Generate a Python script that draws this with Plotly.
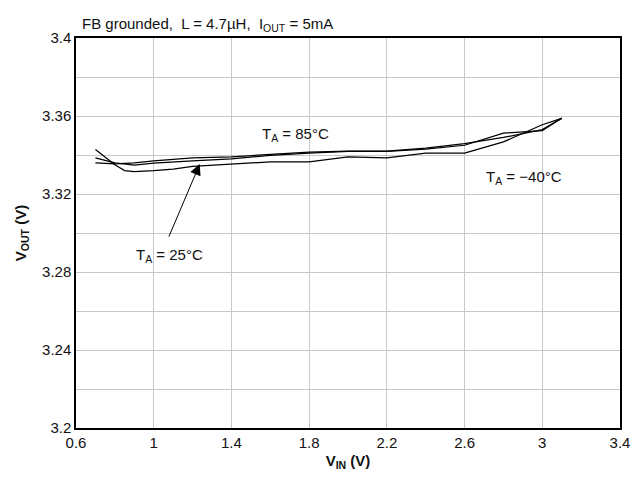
import plotly.graph_objects as go

vin_85 = [0.7, 0.8, 0.9, 1.0, 1.2, 1.4, 1.6, 1.8, 2.0, 2.2, 2.4, 2.6, 2.8, 3.0, 3.1]
vout_85 = [3.336, 3.3355, 3.336, 3.337, 3.3385, 3.339, 3.3403, 3.3415, 3.342, 3.342, 3.3435, 3.3458, 3.349, 3.353, 3.3588]

vin_25 = [0.7, 0.8, 0.9, 1.0, 1.2, 1.4, 1.6, 1.8, 2.0, 2.2, 2.4, 2.6, 2.8, 3.0, 3.1]
vout_25 = [3.3385, 3.336, 3.3348, 3.3358, 3.337, 3.338, 3.3398, 3.341, 3.3418, 3.3418, 3.343, 3.345, 3.3512, 3.3525, 3.359]

vin_m40 = [0.7, 0.8, 0.85, 0.9, 1.0, 1.1, 1.2, 1.4, 1.6, 1.8, 2.0, 2.2, 2.4, 2.6, 2.8, 3.0, 3.1]
vout_m40 = [3.3428, 3.335, 3.332, 3.3315, 3.332, 3.3328, 3.3342, 3.3355, 3.3365, 3.3365, 3.339, 3.3385, 3.341, 3.341, 3.3467, 3.3555, 3.3588]

x_ticks = [0.6, 1, 1.4, 1.8, 2.2, 2.6, 3, 3.4]
y_ticks = [3.2, 3.24, 3.28, 3.32, 3.36, 3.4]

FONT = "Liberation Sans, Arial, sans-serif"

fig = go.Figure()
for xs, ys in [(vin_85, vout_85), (vin_25, vout_25), (vin_m40, vout_m40)]:
    fig.add_trace(go.Scatter(x=xs, y=ys, mode="lines",
                             line=dict(color="black", width=1.25),
                             showlegend=False, hoverinfo="skip"))

fig.update_layout(
    width=633, height=470,
    margin=dict(l=68, r=11, t=30, b=50),
    paper_bgcolor="white", plot_bgcolor="white",
    font=dict(family=FONT, size=15, color="#111"),
    xaxis=dict(range=[0.6, 3.4], tickvals=x_ticks,
               ticktext=[str(v) for v in x_ticks],
               showgrid=True, gridcolor="#c8c8c8", gridwidth=1.3,
               showline=True, linecolor="black", linewidth=1.5, mirror=True,
               ticks="", zeroline=False, tickfont=dict(size=15),
               title=dict(text="<b>V<sub>IN</sub> (V)</b>", standoff=6,
                          font=dict(size=15, color="#111"))),
    yaxis=dict(range=[3.2, 3.4], tickvals=y_ticks,
               ticktext=[f"{v:g}" for v in y_ticks],
               showgrid=True, gridcolor="#c8c8c8", gridwidth=1.3,
               minor=dict(dtick=0.02, tick0=3.2, showgrid=True,
                          gridcolor="#c8c8c8", gridwidth=1.3),
               showline=True, linecolor="black", linewidth=1.5, mirror=True,
               ticks="", zeroline=False, tickfont=dict(size=15),
               title=dict(text="<b>V<sub>OUT</sub> (V)</b>", standoff=12,
                          font=dict(size=15, color="#111"))),
)

fig.add_annotation(xref="paper", yref="paper", x=0.007, y=1.0, yshift=2,
                   xanchor="left", yanchor="bottom", showarrow=False,
                   text="FB grounded,  L = 4.7µH,  I<sub>OUT</sub> = 5mA",
                   font=dict(size=15, color="#111"))

fig.add_annotation(x=1.732, y=3.3503, text="T<sub>A</sub> = 85°C", showarrow=False,
                   font=dict(size=15, color="#111"))
fig.add_annotation(x=2.904, y=3.3287, text="T<sub>A</sub> = −40°C", showarrow=False,
                   font=dict(size=15, color="#111"))
fig.add_annotation(x=1.08, y=3.2887, text="T<sub>A</sub> = 25°C", showarrow=False,
                   font=dict(size=15, color="#111"))
fig.add_annotation(x=1.237, y=3.3354, ax=1.075, ay=3.2974, axref="x", ayref="y",
                   text="", showarrow=True, arrowhead=2, arrowsize=2.2,
                   arrowwidth=1, arrowcolor="black")

fig.write_html("out.html")
